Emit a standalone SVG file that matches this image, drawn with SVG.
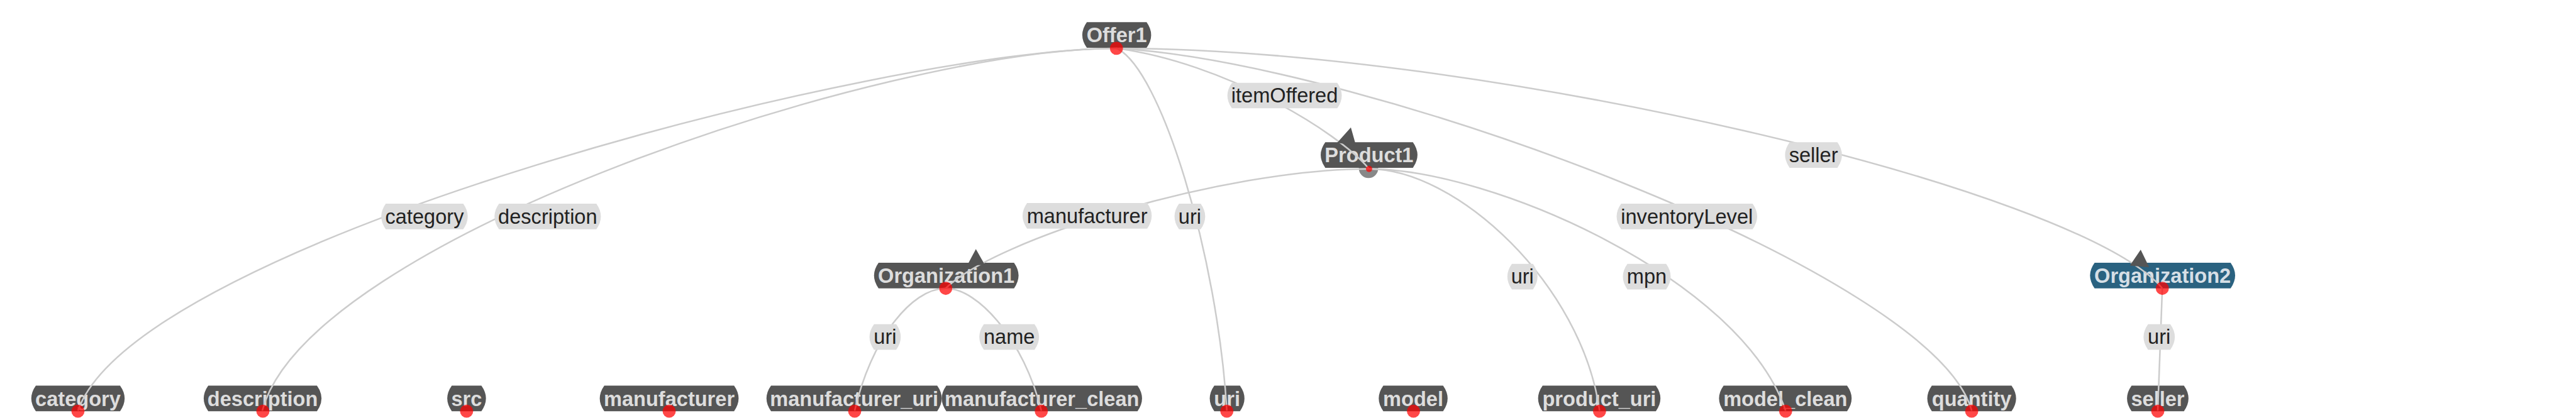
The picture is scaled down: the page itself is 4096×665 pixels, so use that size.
<svg xmlns="http://www.w3.org/2000/svg" width="4096" height="665" viewBox="0 0 4096 665">
<style>
.nb{fill:#555555}
.nb2{fill:#2a6280}
.nt{font-family:"Liberation Sans",Arial,sans-serif;font-size:36px;font-weight:bold;fill:#dddddd;text-anchor:middle}
.nt2{fill:#d6dfe6}
.lb{fill:#dddddd}
.lt{font-family:"Liberation Sans",Arial,sans-serif;font-size:36px;fill:#222222;text-anchor:middle}
.e{fill:none;stroke:#cccccc;stroke-width:2.8}
.ah{fill:#555555}
.dot{fill:#ff0000;fill-opacity:0.72}
</style>
<rect width="4096" height="665" fill="#ffffff"/>
<g transform="scale(0.904793)">
<g id="nodes">
<g id="node-Offer1"><path class="nb" d="M1910,39H2015Q2031,61.5 2015,84H1910Q1894,61.5 1910,39Z"/><text class="nt" x="1962.5" y="74.5">Offer1</text></g>
<g id="node-Product1"><circle cx="2405" cy="296" r="17" fill="#888888"/><path class="nb" d="M2329,250H2483Q2499,272.5 2483,295H2329Q2313,272.5 2329,250Z"/><text class="nt" x="2406" y="285.5">Product1</text></g>
<g id="node-Organization1"><path class="nb" d="M1544,462H1782Q1798,484.5 1782,507H1544Q1528,484.5 1544,462Z"/><text class="nt" x="1663" y="497.5">Organization1</text></g>
<g id="node-Organization2"><path class="nb2" d="M3681,462H3920Q3936,484.5 3920,507H3681Q3665,484.5 3681,462Z"/><text class="nt nt2" x="3800.5" y="497.5">Organization2</text></g>
<g id="node-category"><path class="nb" d="M63,678H211Q227,700.5 211,723H63Q47,700.5 63,678Z"/><text class="nt" x="137" y="713.5">category</text></g>
<g id="node-description"><path class="nb" d="M366,678H557Q573,700.5 557,723H366Q350,700.5 366,678Z"/><text class="nt" x="461.5" y="713.5">description</text></g>
<g id="node-src"><path class="nb" d="M794,678H846Q862,700.5 846,723H794Q778,700.5 794,678Z"/><text class="nt" x="820" y="713.5">src</text></g>
<g id="node-manufacturer"><path class="nb" d="M1062,678H1290Q1306,700.5 1290,723H1062Q1046,700.5 1062,678Z"/><text class="nt" x="1176" y="713.5">manufacturer</text></g>
<g id="node-manufacturer_uri"><path class="nb" d="M1355,678H1647Q1663,700.5 1647,723H1355Q1339,700.5 1355,678Z"/><text class="nt" x="1501" y="713.5">manufacturer_uri</text></g>
<g id="node-manufacturer_clean"><path class="nb" d="M1663,678H1999Q2015,700.5 1999,723H1663Q1647,700.5 1663,678Z"/><text class="nt" x="1831" y="713.5">manufacturer_clean</text></g>
<g id="node-uri"><path class="nb" d="M2134,678H2179Q2195,700.5 2179,723H2134Q2118,700.5 2134,678Z"/><text class="nt" x="2156.5" y="713.5">uri</text></g>
<g id="node-model"><path class="nb" d="M2431,678H2536Q2552,700.5 2536,723H2431Q2415,700.5 2431,678Z"/><text class="nt" x="2483.5" y="713.5">model</text></g>
<g id="node-product_uri"><path class="nb" d="M2711,678H2910Q2926,700.5 2910,723H2711Q2695,700.5 2711,678Z"/><text class="nt" x="2810.5" y="713.5">product_uri</text></g>
<g id="node-model_clean"><path class="nb" d="M3029,678H3246Q3262,700.5 3246,723H3029Q3013,700.5 3029,678Z"/><text class="nt" x="3137.5" y="713.5">model_clean</text></g>
<g id="node-quantity"><path class="nb" d="M3395,678H3535Q3551,700.5 3535,723H3395Q3379,700.5 3395,678Z"/><text class="nt" x="3465" y="713.5">quantity</text></g>
<g id="node-seller"><path class="nb" d="M3746,678H3838Q3854,700.5 3838,723H3746Q3730,700.5 3746,678Z"/><text class="nt" x="3792" y="713.5">seller</text></g>
</g>
<g id="connectors">
<path class="e" d="M1962,85C1562,85 242,423 137,722"/>
<path class="e" d="M1962,85C1562,85 540,420 461,722"/>
<path class="e" d="M1962,85C2040,120 2140,450 2156,722"/>
<path class="e" d="M1962,85C2150,110 2350,230 2406,297"/>
<path class="e" d="M1962,85C2400,110 3400,480 3465,722"/>
<path class="e" d="M1962,85C2600,85 3650,330 3800,507"/>
<path class="e" d="M2406,297C2150,297 1750,420 1662,507"/>
<path class="e" d="M2406,297C2560,297 2780,500 2811,722"/>
<path class="e" d="M2406,297C2620,297 3060,490 3138,722"/>
<path class="e" d="M1662,507C1600,507 1530,600 1502,722"/>
<path class="e" d="M1662,507C1720,507 1800,600 1830,722"/>
<path class="e" d="M3800,507L3792,722"/>
</g>
<g id="edge-labels">
<g id="label-itemOffered"><path class="lb" d="M2165,145.5H2350Q2366,168 2350,190.5H2165Q2149,168 2165,145.5Z"/><text class="lt" x="2257.5" y="180.5">itemOffered</text></g>
<g id="label-category"><path class="lb" d="M678,358H814Q830,380.5 814,403H678Q662,380.5 678,358Z"/><text class="lt" x="746" y="393">category</text></g>
<g id="label-description"><path class="lb" d="M877,358H1048Q1064,380.5 1048,403H877Q861,380.5 877,358Z"/><text class="lt" x="962.5" y="393">description</text></g>
<g id="label-manufacturer"><path class="lb" d="M1805,357H2016Q2032,379.5 2016,402H1805Q1789,379.5 1805,357Z"/><text class="lt" x="1910.5" y="392">manufacturer</text></g>
<g id="label-uri-offer"><path class="lb" d="M2072,358H2110Q2126,380.5 2110,403H2072Q2056,380.5 2072,358Z"/><text class="lt" x="2091" y="393">uri</text></g>
<g id="label-inventoryLevel"><path class="lb" d="M2849,358H3080Q3096,380.5 3080,403H2849Q2833,380.5 2849,358Z"/><text class="lt" x="2964.5" y="393">inventoryLevel</text></g>
<g id="label-seller"><path class="lb" d="M3145,250H3229Q3245,272.5 3229,295H3145Q3129,272.5 3145,250Z"/><text class="lt" x="3187" y="285">seller</text></g>
<g id="label-uri-org1"><path class="lb" d="M1536,570H1575Q1591,592.5 1575,615H1536Q1520,592.5 1536,570Z"/><text class="lt" x="1555.5" y="605">uri</text></g>
<g id="label-name"><path class="lb" d="M1729,570H1818Q1834,592.5 1818,615H1729Q1713,592.5 1729,570Z"/><text class="lt" x="1773.5" y="605">name</text></g>
<g id="label-uri-product"><path class="lb" d="M2657,464H2694Q2710,486.5 2694,509H2657Q2641,486.5 2657,464Z"/><text class="lt" x="2675.5" y="499">uri</text></g>
<g id="label-mpn"><path class="lb" d="M2860,464H2928Q2944,486.5 2928,509H2860Q2844,486.5 2860,464Z"/><text class="lt" x="2894" y="499">mpn</text></g>
<g id="label-uri-org2"><path class="lb" d="M3775,570H3814Q3830,592.5 3814,615H3775Q3759,592.5 3775,570Z"/><text class="lt" x="3794.5" y="605">uri</text></g>
</g>
<g id="arrowheads">
<polygon class="ah" points="2374,224 2350,251 2383,256"/>
<polygon class="ah" points="1715,438 1700,466 1731,466"/>
<polygon class="ah" points="3762,439 3743,467 3777,470"/>
</g>
<g id="ports">
<circle class="dot" cx="1962" cy="85" r="11.5"/>
<circle class="dot" cx="2406" cy="297" r="5.5"/>
<circle class="dot" cx="1662" cy="507" r="11.5"/>
<circle class="dot" cx="3800" cy="507" r="11.5"/>
<circle class="dot" cx="137" cy="723" r="11.5"/>
<circle class="dot" cx="462" cy="723" r="11.5"/>
<circle class="dot" cx="820" cy="723" r="11.5"/>
<circle class="dot" cx="1176" cy="723" r="11.5"/>
<circle class="dot" cx="1502" cy="723" r="11.5"/>
<circle class="dot" cx="1830" cy="723" r="11.5"/>
<circle class="dot" cx="2156" cy="723" r="11.5"/>
<circle class="dot" cx="2484" cy="723" r="11.5"/>
<circle class="dot" cx="2811" cy="723" r="11.5"/>
<circle class="dot" cx="3138" cy="723" r="11.5"/>
<circle class="dot" cx="3465" cy="723" r="11.5"/>
<circle class="dot" cx="3792" cy="723" r="11.5"/>
</g>
</g>
</svg>
